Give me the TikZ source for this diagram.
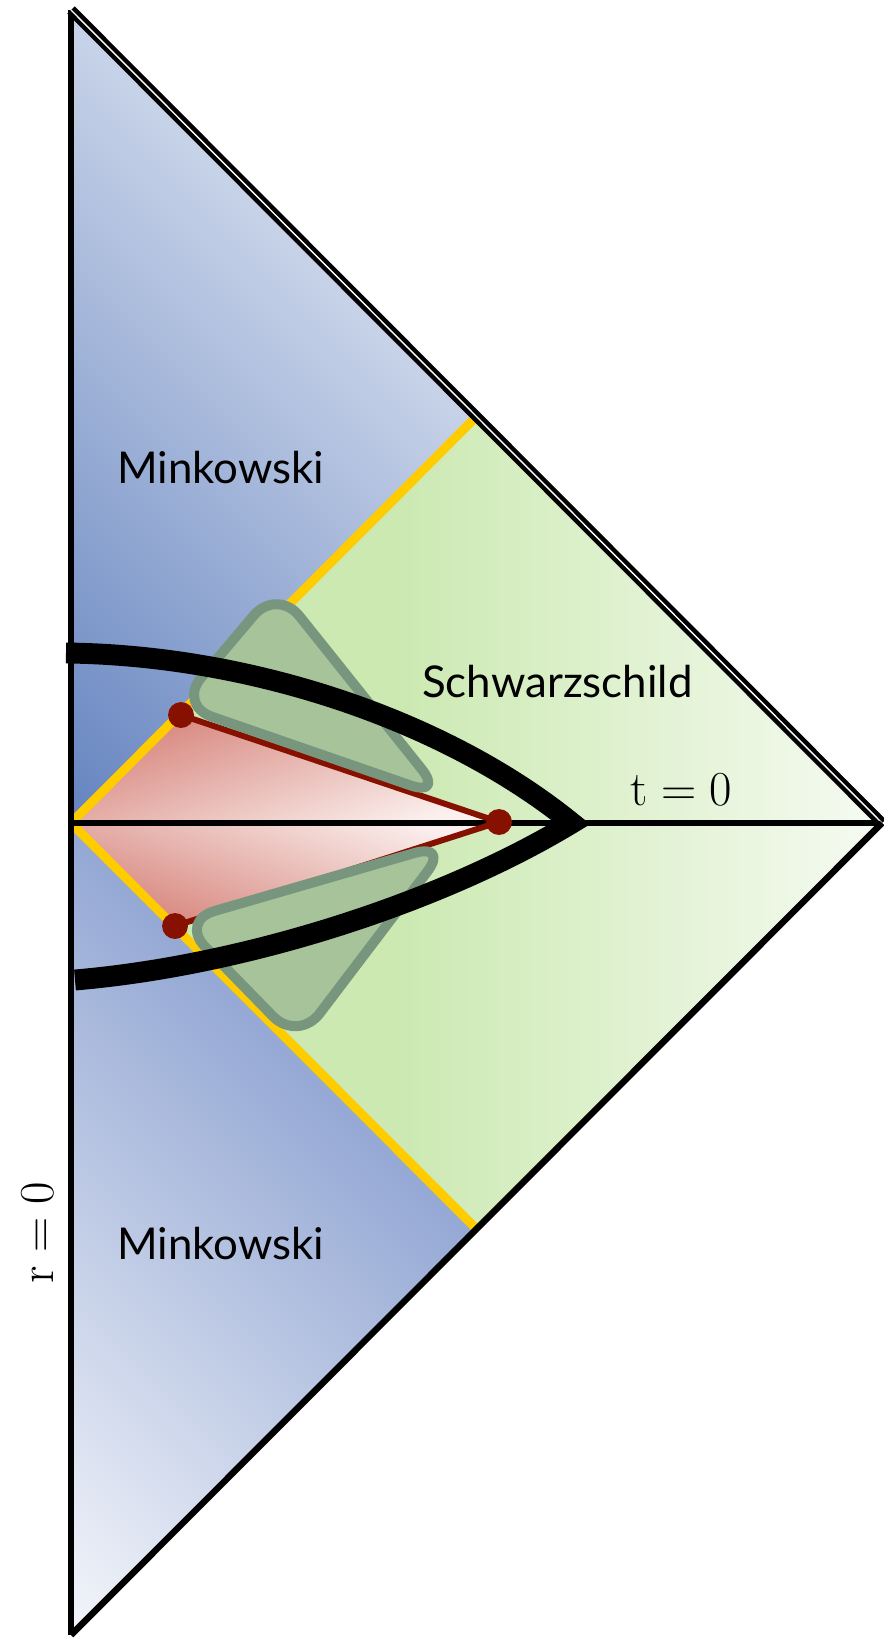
\RequirePackage{fix-cm}
\documentclass[tikz,border=0pt]{standalone}
\usepackage{fontspec}
\newfontfamily\gillfont{Lato}
\usetikzlibrary{calc}

\definecolor{mkdark}{HTML}{6584C0}
\definecolor{mklight}{HTML}{C8D3E8}
\definecolor{mkmid}{HTML}{94A8D4}
\definecolor{mkwhite}{HTML}{F3F5FA}
\definecolor{schdeep}{HTML}{CCE9B2}
\definecolor{schpale}{HTML}{F6FBF2}
\definecolor{shelldeep}{HTML}{D6837A}
\definecolor{shellpale}{HTML}{FBF0EE}
\definecolor{horizon}{HTML}{FFCC00}
\definecolor{blobfill}{HTML}{A7C399}
\definecolor{blobedge}{HTML}{78967E}
\definecolor{dotred}{HTML}{861100}

% diagonal ramps for the two Minkowski wedges
\pgfdeclareverticalshading{mkupper}{100bp}{color(0bp)=(mkdark); color(23.5bp)=(mkdark);
  color(58.8bp)=(mklight); color(100bp)=(mklight)}
\pgfdeclareverticalshading{mklower}{100bp}{color(0bp)=(mkwhite); color(23.5bp)=(mkwhite);
  color(58.8bp)=(mkmid); color(100bp)=(mkmid)}

\begin{document}
\begin{tikzpicture}[x=1bp,y=-1bp,
    region/.style={inner sep=0,font=\gillfont\fontsize{44}{53}\selectfont},
    coordlabel/.style={inner sep=0,font=\fontsize{49}{58}\selectfont},
    blob/.style={draw=blobedge,fill=blobfill,line width=10,rounded corners=36,line join=round},
    shelldot/.style={circle,fill=dotred,inner sep=0,minimum size=26},
    frame/.style={line width=6.5}]
  \useasboundingbox (0,0) rectangle (883,1639);
  \coordinate (top) at (71,10);
  \coordinate (bot) at (71,1635);
  \coordinate (apex) at (882,823);
  \coordinate (origin) at (71,823);
  \coordinate (hup) at (476.5,416.5);
  \coordinate (hdown) at (476.5,1229);

  % Minkowski wedges
  \begin{scope}
    \clip (top) -- (hup) -- (origin) -- cycle;
    \shade[shading=mkupper,shading angle=-45] (-132.5,10) rectangle (680.5,823);
  \end{scope}
  \begin{scope}
    \clip (origin) -- (hdown) -- (bot) -- cycle;
    \shade[shading=mklower,shading angle=-45] (-132,823) rectangle (680,1635);
  \end{scope}

  % Schwarzschild diamond
  \fill[schdeep] (origin) -- (hup) -- (apex) -- (hdown) -- cycle;
  \begin{scope}
    \clip (origin) -- (hup) -- (apex) -- (hdown) -- cycle;
    \shade[left color=schdeep,right color=schpale] (400,416) rectangle (882,1229);
  \end{scope}

  \coordinate (p1) at (181,715);
  \coordinate (p2) at (175,926);
  \coordinate (q) at (499,822);
  \shade[top color=shelldeep,bottom color=shellpale,shading angle=20]
    (origin) -- (p1) -- (q) -- cycle;
  \shade[top color=shellpale,bottom color=shelldeep,shading angle=-20]
    (origin) -- (p2) -- (q) -- cycle;

  \draw[horizon,line width=9] (origin) -- (hup);
  \draw[horizon,line width=9] (origin) -- (hdown);
  \draw[frame] (origin) -- (apex);

  \draw[dotred,line width=6] (p1) -- (q);
  \draw[dotred,line width=6] (p2) -- (q);

  \draw[blob] (277,588) -- (444,797) -- (178,705) -- cycle;
  \draw[blob] (449,843) -- (298,1042) -- (180,921) -- cycle;

  \node[shelldot] (d1) at (p1) {};
  \node[shelldot] (d2) at (p2) {};
  \node[shelldot] (d3) at (q) {};

  % the shell
  \draw[line width=21] (75,980) .. controls (250,965) and (445,900) .. (572,823)
    .. controls (445,720) and (250,655) .. (66,653);

  % Penrose boundary
  \draw[frame] (top) -- (bot);
  \draw[line width=4.5,double=white,double distance=1.4] (top) -- (apex);
  \draw[frame] (apex) -- (bot);

  \node[region,anchor=base west] (mkup) at (117,483) {Minkowski};
  \node[region,anchor=base west] (mkdown) at (117,1259) {Minkowski};
  \node[region,anchor=base west] (schw) at (422,697) {Schwarzschild};
  \node[coordlabel,anchor=base west] (tzero) at (630,805) {$\mathrm{t}=0$};
  \node[coordlabel,anchor=base west,rotate=90] (rzero) at (53,1284) {$\mathrm{r}=0$};
\end{tikzpicture}
\end{document}
